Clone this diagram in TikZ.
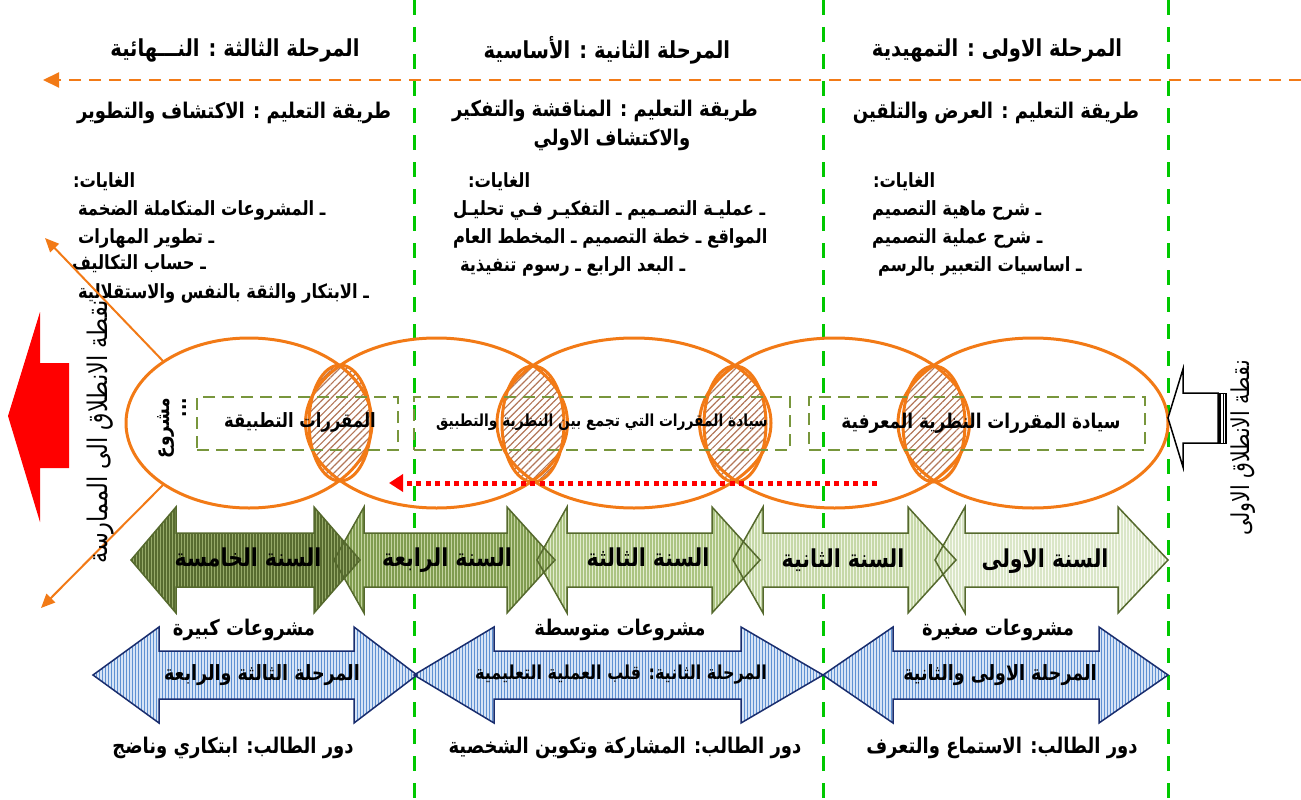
\documentclass[tikz,border=0pt]{standalone}
\usepackage{fontspec}
\usepackage{graphicx}
\usetikzlibrary{shapes.geometric,patterns,patterns.meta,arrows.meta}
\TeXXeTstate=1
\newfontfamily\arfont[Script=Arabic]{DejaVu Sans}
\newcommand{\AR}[1]{\scalebox{1}[1.2]{\arfont\beginR #1\endR}}
\newcommand{\fsz}[1]{\fontsize{#1}{#1}\selectfont}
% style, xl, xr, head left, head right, cy, shaft half, head half
\newcommand{\dblarr}[8]{%
  \path[#1] (#2,#6) -- ({#2+#4},{#6-#8}) -- ({#2+#4},{#6-#7}) -- ({#3-#5},{#6-#7}) -- ({#3-#5},{#6-#8}) -- (#3,#6) -- ({#3-#5},{#6+#8}) -- ({#3-#5},{#6+#7}) -- ({#2+#4},{#6+#7}) -- ({#2+#4},{#6+#8}) -- cycle;}
\definecolor{gl}{RGB}{0,200,0}
\definecolor{orl}{RGB}{242,122,22}
\definecolor{olv}{RGB}{120,150,60}
\definecolor{hatchc}{RGB}{178,118,88}
\definecolor{navy}{RGB}{25,45,110}
\definecolor{bst}{RGB}{95,145,210}
\definecolor{bbg}{RGB}{215,228,246}
\definecolor{yline}{RGB}{85,105,45}
\definecolor{yaBg}{RGB}{248,250,242}\definecolor{yaSt}{RGB}{218,230,200}
\definecolor{ybBg}{RGB}{238,244,226}\definecolor{ybSt}{RGB}{198,216,168}
\definecolor{ycBg}{RGB}{226,236,206}\definecolor{ycSt}{RGB}{172,196,130}
\definecolor{ydBg}{RGB}{196,212,160}\definecolor{ydSt}{RGB}{128,156,80}
\definecolor{yeBg}{RGB}{150,170,105}\definecolor{yeSt}{RGB}{88,108,48}
\begin{document}
\begin{tikzpicture}[x=1pt,y=-1pt,
  every node/.style={inner sep=0pt,outer sep=0pt},
  gdash/.style={draw=gl,line width=3pt,dash pattern=on 15pt off 12pt},
  odash/.style={draw=orl,line width=2pt,dash pattern=on 12pt off 8pt},
  hd/.style={font=\fsz{19.5}\bfseries},
  md/.style={font=\fsz{18}\bfseries},
  goal/.style={font=\fsz{16.3}\bfseries,anchor=west},
  bigell/.style={ellipse,draw=orl,line width=3pt,minimum height=170pt},
  lens/.style={ellipse,draw=orl,line width=3pt,minimum width=62pt,minimum height=116pt,
    pattern={Lines[angle=45,distance=5pt,line width=1.2pt]},pattern color=hatchc},
  rbox/.style={draw=olv,line width=2.5pt,dash pattern=on 12pt off 7pt,minimum height=53pt},
  yfill/.style 2 args={fill=#1,postaction={pattern={Lines[angle=90,distance=3pt,line width=1.1pt]},pattern color=#2}},
  bfill/.style 2 args={fill=#1,postaction={pattern={Lines[angle=90,distance=3pt,line width=0.9pt]},pattern color=#2}},
  yout/.style={draw=yline,line width=1.5pt},
  bout/.style={draw=navy,line width=1.5pt},
  ytext/.style={font=\fsz{20.5}\bfseries,anchor=base},
  btext/.style={font=\fsz{17.5}\bfseries},
  ptext/.style={font=\fsz{18}\bfseries},
  oline/.style={draw=orl,line width=2pt,-{Triangle[length=14pt,width=12pt]}},
  vtext/.style={rotate=90}
]
\useasboundingbox (0,0) rectangle (1301,800);

% green vertical dashed lines
\coordinate (g1t) at (414,0);  \coordinate (g1b) at (414,800);
\coordinate (g2t) at (823,0);  \coordinate (g2b) at (823,800);
\coordinate (g3t) at (1168,0); \coordinate (g3b) at (1168,800);
\draw[gdash] (g1t) -- (g1b);
\draw[gdash] (g2t) -- (g2b);
\draw[gdash] (g3t) -- (g3b);

% orange horizontal dashed arrow
\coordinate (oR) at (1301,80); \coordinate (oL) at (43,80);
\draw[odash,-{Triangle[length=16pt,width=15pt]}] (oR) -- (oL);

% headers
\node[hd] (h3) at (235,50) {\AR{المرحلة الثالثة : النـــهائية}};
\node[hd] (h2) at (607,50) {\AR{المرحلة الثانية : الأساسية}};
\node[hd] (h1) at (997,50) {\AR{المرحلة الاولى : التمهيدية}};
\node[md] (m3) at (234,113) {\AR{طريقة التعليم : الاكتشاف والتطوير}};
\node[md] (m2a) at (605,111) {\AR{طريقة التعليم : المناقشة والتفكير}};
\node[md] (m2b) at (612,140) {\AR{والاكتشاف الاولي}};
\node[md] (m1) at (996,113) {\AR{طريقة التعليم : العرض والتلقين}};

% goals column 3
\node[goal] (c3g) at (73,182) {\AR{الغايات:}};
\node[goal] (c3a) at (78,210) {\AR{ـ المشروعات المتكاملة الضخمة}};
\node[goal] (c3b) at (78,238) {\AR{ـ تطوير المهارات}};
\node[goal] (c3c) at (72,264) {\AR{ـ حساب التكاليف}};
\node[goal] (c3d) at (78,293) {\AR{ـ  الابتكار والثقة بالنفس والاستقلالية}};
% goals column 2
\node[goal] (c2g) at (468,182) {\AR{الغايات:}};
\node[goal] (c2a) at (453,210) {\AR{ـ عمليـة التصـميم  ـ التفكيـر فـي تحليـل}};
\node[goal] (c2b) at (453,238) {\AR{المواقع  ـ خطة التصميم  ـ  المخطط العام}};
\node[goal] (c2c) at (460,266) {\AR{ـ البعد الرابع ـ رسوم تنفيذية}};
% goals column 1
\node[goal] (c1g) at (873,182) {\AR{الغايات:}};
\node[goal] (c1a) at (872,210) {\AR{ـ شرح ماهية التصميم}};
\node[goal] (c1b) at (872,238) {\AR{ـ شرح عملية التصميم}};
\node[goal] (c1c) at (878,266) {\AR{ـ اساسيات التعبير بالرسم}};

% lenses (hatched intersections)
\node[lens] (L1) at (340,423) {};
\node[lens] (L2) at (533,424) {};
\node[lens] (L3) at (735,424) {};
\node[lens] (L4) at (934,424) {};

% big ellipses
\node[bigell,minimum width=246pt] (E1) at (249,423) {};
\node[bigell,minimum width=262pt] (E2) at (436.5,423) {};
\node[bigell,minimum width=274pt] (E3) at (634,423) {};
\node[bigell,minimum width=270pt] (E4) at (834.5,423) {};
\node[bigell,minimum width=270pt] (E5) at (1033,423) {};

% dashed boxes
\node[rbox,minimum width=201pt] (RA) at (297.5,423.5) {};
\node[font=\fsz{16.4}\bfseries] (RAt) at (300,422) {\AR{المقررات التطبيقة}};
\node[rbox,minimum width=376pt] (RB) at (602,423.5) {};
\node[font=\fsz{13.8}\bfseries] (RBt) at (602,422) {\AR{سيادة المقررات التي تجمع بين النظرية والتطبيق}};
\node[rbox,minimum width=336pt] (RC) at (977,423.5) {};
\node[font=\fsz{16.9}\bfseries] (RCt) at (981,423) {\AR{سيادة المقررات النظرية المعرفية}};

% project label
\node[font=\fsz{17}\bfseries,rotate=90,align=right] (proj) at (172,428) {\AR{مشروع}\\\AR{...}};

% red dotted arrow
\coordinate (rdA) at (877,483); \coordinate (rdB) at (389,483);
\draw[draw=red,line width=5pt,dash pattern=on 5pt off 4.5pt,-{Triangle[length=14pt,width=17pt]}] (rdA) -- (rdB);

% orange arrows from first ellipse
\coordinate (oa1) at (163,361); \coordinate (oa2) at (45,238);
\coordinate (ob1) at (163,485); \coordinate (ob2) at (41,608);
\draw[oline] (oa1) -- (oa2);
\draw[oline] (ob1) -- (ob2);

% red big arrow
\fill[red] (8,416) -- (40,312) -- (40,363) -- (69,363) -- (69,468) -- (40,468) -- (40,522) -- cycle;

% white start arrow
\draw[line width=1.5pt,fill=white] (1168,418) -- (1183,369) -- (1183,393) -- (1218,393) -- (1218,443) -- (1183,443) -- (1183,467) -- cycle;
\draw[line width=2.5pt] (1219.5,393) -- (1219.5,443);
\draw[line width=1pt] (1223,393) -- (1223,443);
\draw[line width=2.5pt] (1226,393) -- (1226,443);
\draw[line width=1pt] (1218,393) -- (1227,393) (1218,443) -- (1227,443);

% vertical texts
\node[vtext,font=\fsz{22.5}] (vl) at (101,432) {\AR{نقطة الانطلاق الى الممارسة}};
\node[vtext,font=\fsz{20.5}] (vr) at (1243,448) {\AR{نقطة الانطلاق الاولى}};

% year arrows
\dblarr{yfill={yaBg}{yaSt}}{935}{1168}{30}{50}{560}{27}{53}
\dblarr{yfill={ybBg}{ybSt}}{733}{956}{30}{48}{560}{27}{53}
\dblarr{yfill={ycBg}{ycSt}}{537}{760}{30}{48}{560}{27}{53}
\dblarr{yfill={ydBg}{ydSt}}{334}{555}{30}{48}{560}{27}{53}
\dblarr{yfill={yeBg}{yeSt}}{131}{360}{45}{46}{560}{27}{53}
\dblarr{yout}{935}{1168}{30}{50}{560}{27}{53}
\dblarr{yout}{733}{956}{30}{48}{560}{27}{53}
\dblarr{yout}{537}{760}{30}{48}{560}{27}{53}
\dblarr{yout}{334}{555}{30}{48}{560}{27}{53}
\dblarr{yout}{131}{360}{45}{46}{560}{27}{53}
\node[ytext] (y5) at (248,566) {\AR{السنة الخامسة}};
\node[ytext] (y4) at (447,566) {\AR{السنة الرابعة}};
\node[ytext] (y3) at (648,566) {\AR{السنة الثالثة}};
\node[ytext] (y2) at (843,567) {\AR{السنة الثانية}};
\node[ytext] (y1) at (1045,567) {\AR{السنة الاولى}};

% blue arrows
\dblarr{bfill={bbg}{bst}}{93}{417}{66}{63}{675}{24}{48}
\dblarr{bfill={bbg}{bst}}{414}{823}{80}{82}{675}{24}{48}
\dblarr{bfill={bbg}{bst}}{823}{1168}{70}{69}{675}{24}{48}
\dblarr{bout}{93}{417}{66}{63}{675}{24}{48}
\dblarr{bout}{414}{823}{80}{82}{675}{24}{48}
\dblarr{bout}{823}{1168}{70}{69}{675}{24}{48}
\node[btext] (b3) at (262,675) {\AR{المرحلة الثالثة والرابعة}};
\node[btext,font=\fsz{16}\bfseries] (b2) at (621,675) {\AR{المرحلة الثانية: قلب العملية التعليمية}};
\node[btext] (b1) at (1000,675) {\AR{المرحلة الاولى والثانية}};

% project sizes
\node[ptext] (p3) at (244,630) {\AR{مشروعات كبيرة}};
\node[ptext] (p2) at (620,630) {\AR{مشروعات متوسطة}};
\node[ptext] (p1) at (998,630) {\AR{مشروعات صغيرة}};

% student role
\node[ptext] (r3) at (233,748) {\AR{دور الطالب: ابتكاري وناضج}};
\node[ptext] (r2) at (625,748) {\AR{دور الطالب: المشاركة وتكوين الشخصية}};
\node[ptext] (r1) at (1002,748) {\AR{دور الطالب: الاستماع والتعرف}};
\end{tikzpicture}
\end{document}
